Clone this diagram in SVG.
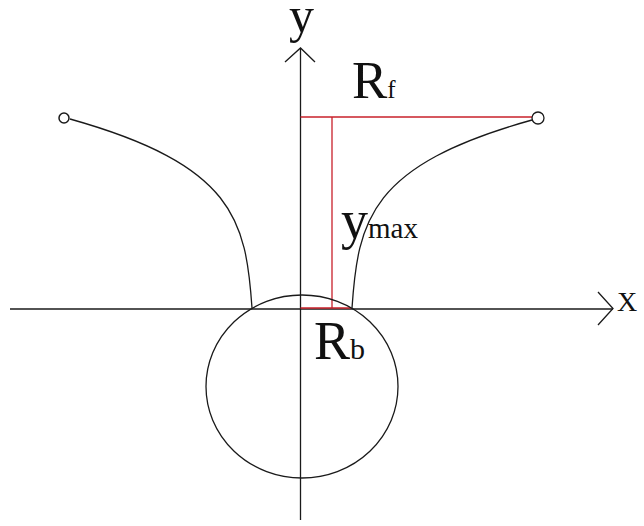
<svg xmlns="http://www.w3.org/2000/svg" width="644" height="526" viewBox="0 0 644 526">
<style>
.ax{fill:none;stroke:#1a1a1a;stroke-width:1.3}
.cv{fill:none;stroke:#1a1a1a;stroke-width:1.3}
.rd{fill:none;stroke:#c8202a;stroke-width:1.3}
.t{font-family:"Liberation Serif","Times New Roman",serif;fill:#111}
</style>
<rect width="644" height="526" fill="#fff"/>
<g id="connectors">
<line class="ax" x1="10" y1="309" x2="613" y2="309"/>
<polyline class="ax" points="598,292 613,308.5 598,325"/>
<line class="ax" x1="300.5" y1="49" x2="300.5" y2="520"/>
<polyline class="ax" points="285,62 300.5,48 315,62"/>
<path class="cv" d="M352,308 C358,220 370,165 532,120"/>
<path class="cv" d="M252,308 C246,220 234,165 70,119"/>
<polyline class="rd" points="300.5,117 532,117"/>
<line class="rd" x1="332" y1="117" x2="332" y2="308"/>
<line class="rd" x1="300.5" y1="308" x2="351" y2="308"/>
</g>
<g id="base-circle"><ellipse class="cv" cx="302" cy="386.5" rx="96" ry="91.5"/></g>
<g id="left-end"><circle cx="64" cy="118" r="5" fill="#fff" stroke="#1a1a1a" stroke-width="1.5"/></g>
<g id="right-end"><circle cx="538" cy="118" r="6" fill="#fff" stroke="#1a1a1a" stroke-width="1.3"/></g>
<g id="labels">
<text class="t" x="289" y="32" font-size="50">y</text>
<text class="t" x="617" y="311" font-size="28">X</text>
<text class="t" x="352" y="98" font-size="53">R<tspan font-size="25">f</tspan></text>
<text class="t" x="341" y="238" font-size="54">y<tspan font-size="29">max</tspan></text>
<text class="t" x="314" y="359" font-size="54">R<tspan font-size="30">b</tspan></text>
</g>
</svg>
